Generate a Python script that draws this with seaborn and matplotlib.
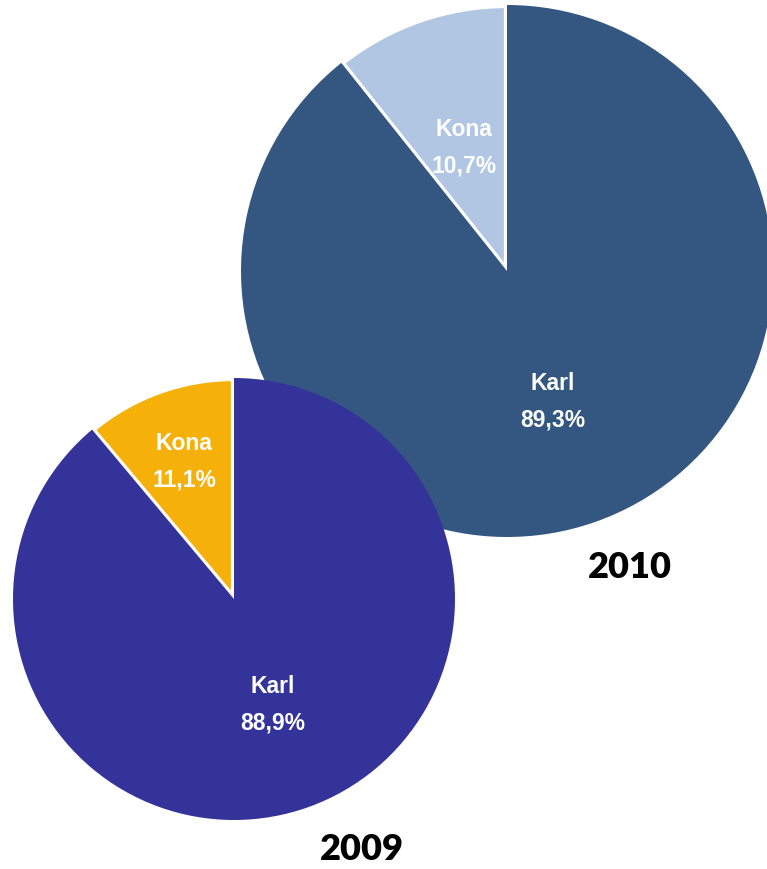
import numpy as np
import matplotlib
matplotlib.use("Agg")
import matplotlib.pyplot as plt
import seaborn as sns

# ---- data ----
categories = ["Kona", "Karl"]
values_2010 = [10.7, 89.3]
values_2009 = [11.1, 88.9]
pct_labels_2010 = ["10,7%", "89,3%"]
pct_labels_2009 = ["11,1%", "88,9%"]
years = ["2010", "2009"]

colors_2010 = ["#B0C6E2", "#345782"]
colors_2009 = ["#F5B00A", "#333399"]

sns.set_theme(style="white")
plt.rcParams['font.family'] = ['Liberation Sans', 'DejaVu Sans']

W, H = 767, 869
fig = plt.figure(figsize=(W / 100, H / 100), dpi=100)
ax = fig.add_axes([0, 0, 1, 1])


def draw_pie(values, pcts, colors, center, radius, label_dist):
    labels = [f"{c}\n{p}" for c, p in zip(categories, pcts)]
    wedges, texts = ax.pie(values, labels=labels, colors=colors,
                           startangle=90, counterclock=True,
                           center=center, radius=radius,
                           labeldistance=0.5,
                           wedgeprops=dict(linewidth=0))
    # white separator via outline on the small wedge
    wedges[0].set_edgecolor("white")
    wedges[0].set_linewidth(4.5)
    for w, t, d in zip(wedges, texts, label_dist):
        th = np.deg2rad((w.theta1 + w.theta2) / 2)
        t.set_position((center[0] + d * radius * np.cos(th),
                        center[1] + d * radius * np.sin(th)))
        t.set_ha("center")
        t.set_va("center")
        t.set_color("white")
        t.set_fontsize(16.5)
        t.set_fontweight("bold")
        t.set_linespacing(1.75)
        t.set_family(["Liberation Sans", "DejaVu Sans"])
    return wedges


draw_pie(values_2010, pct_labels_2010, colors_2010, (507, H - 271), 266, [0.49, 0.52])
draw_pie(values_2009, pct_labels_2009, colors_2009, (234, H - 599), 221, [0.66, 0.51])

ax.text(630, H - 568, years[0], ha="center", va="center", fontsize=26,
        fontweight="heavy", color="black", family=["Lato", "DejaVu Sans"])
ax.text(362, H - 849, years[1], ha="center", va="center", fontsize=26,
        fontweight="heavy", color="black", family=["Lato", "DejaVu Sans"])

ax.set_xlim(0, W)
ax.set_ylim(0, H)
ax.set_aspect("equal")
ax.axis("off")

fig.savefig("out.png", dpi=100, facecolor="white")
